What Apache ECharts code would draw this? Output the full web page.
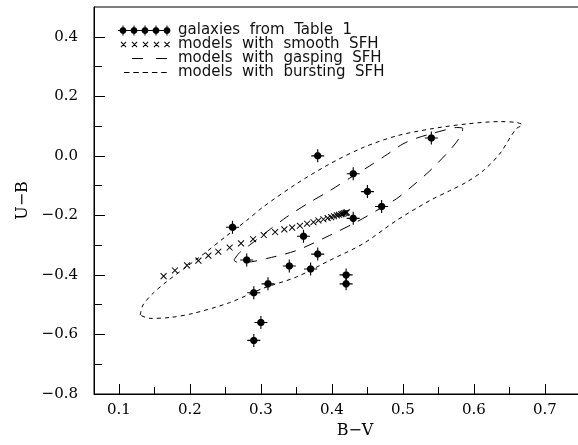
<!DOCTYPE html>
<html>
<head>
<meta charset="utf-8">
<script src="https://cdn.jsdelivr.net/npm/echarts@6.0.0/dist/echarts.min.js"></script>
<style>
html, body { margin: 0; padding: 0; background: #fff; }
#main { width: 578px; height: 445px; }
</style>
</head>
<body>
<div id="main"></div>
<script>
// galaxies from Table 1
var galaxyBV = [0.38, 0.54, 0.43, 0.45, 0.47, 0.43, 0.26, 0.36, 0.38, 0.28, 0.34, 0.37, 0.42, 0.42, 0.31, 0.29, 0.30, 0.29];
var galaxyUB = [0.00, 0.06, -0.06, -0.12, -0.17, -0.21, -0.24, -0.27, -0.33, -0.35, -0.37, -0.38, -0.40, -0.43, -0.43, -0.46, -0.56, -0.62];

// models with smooth SFH
var smoothBV = [0.163, 0.179, 0.196, 0.212, 0.226, 0.240, 0.256, 0.272, 0.289, 0.304, 0.320, 0.333, 0.344, 0.355, 0.365, 0.374, 0.381, 0.388, 0.394, 0.399, 0.403, 0.407, 0.410, 0.413, 0.415, 0.417, 0.419, 0.420, 0.421];
var smoothUB = [-0.404, -0.385, -0.368, -0.352, -0.335, -0.322, -0.308, -0.294, -0.280, -0.266, -0.256, -0.247, -0.241, -0.235, -0.228, -0.223, -0.217, -0.213, -0.209, -0.206, -0.203, -0.200, -0.198, -0.196, -0.195, -0.193, -0.192, -0.191, -0.190];

// models with gasping SFH (closed loop)
var gaspBV = [0.262, 0.270, 0.284, 0.310, 0.336, 0.366, 0.397, 0.425, 0.453, 0.478, 0.500, 0.520, 0.538, 0.558, 0.575, 0.584, 0.583, 0.575, 0.561, 0.538, 0.514, 0.491, 0.462, 0.434, 0.397, 0.350, 0.308, 0.280, 0.266, 0.262];
var gaspUB = [-0.350, -0.325, -0.300, -0.252, -0.206, -0.160, -0.117, -0.075, -0.034, 0.005, 0.040, 0.060, 0.073, 0.086, 0.095, 0.093, 0.075, 0.045, 0.006, -0.050, -0.100, -0.144, -0.185, -0.223, -0.267, -0.318, -0.345, -0.357, -0.357, -0.350];

// models with bursting SFH (closed loop)
var burstBV = [0.130, 0.134, 0.148, 0.167, 0.195, 0.223, 0.252, 0.280, 0.303, 0.350, 0.397, 0.444, 0.491, 0.538, 0.589, 0.636, 0.660, 0.668, 0.659, 0.636, 0.613, 0.589, 0.566, 0.538, 0.491, 0.444, 0.397, 0.350, 0.303, 0.256, 0.205, 0.172, 0.144, 0.130];
var burstUB = [-0.535, -0.501, -0.462, -0.423, -0.373, -0.323, -0.268, -0.217, -0.172, -0.094, -0.027, 0.028, 0.067, 0.090, 0.107, 0.115, 0.112, 0.104, 0.090, 0.006, -0.050, -0.089, -0.117, -0.150, -0.217, -0.295, -0.351, -0.407, -0.445, -0.493, -0.529, -0.543, -0.546, -0.535];

// ticks
var xTicks = [0.1, 0.2, 0.3, 0.4, 0.5, 0.6, 0.7];
var xMinorTicks = [0.15, 0.25, 0.35, 0.45, 0.55, 0.65, 0.75];
var yTicks = [-0.8, -0.6, -0.4, -0.2, 0.0, 0.2, 0.4];
var yMinorTicks = [-0.7, -0.5, -0.3, -0.1, 0.1, 0.3];

var names = ['galaxies from Table 1', 'models with smooth SFH', 'models with gasping SFH', 'models with bursting SFH'];

function zip(a, b) {
	var out = [];
	for (var i = 0; i < a.length; i++) out.push([a[i], b[i]]);
	return out;
}

// ---- path helpers for the symbols (all subpaths clockwise so nothing cancels)
function poly(pts) {
	var s = 0;
	for (var i = 0; i < pts.length; i++) {
		var p = pts[i], q = pts[(i + 1) % pts.length];
		s += p[0] * q[1] - q[0] * p[1];
	}
	if (s < 0) pts = pts.slice().reverse();
	var d = 'M' + pts[0][0].toFixed(2) + ' ' + pts[0][1].toFixed(2);
	for (var j = 1; j < pts.length; j++) d += ' L' + pts[j][0].toFixed(2) + ' ' + pts[j][1].toFixed(2);
	return d + ' Z ';
}
function rect(x, y, w, h) {
	return poly([[x, y], [x + w, y], [x + w, y + h], [x, y + h]]);
}
function circle(cx, cy, r) {
	var pts = [];
	for (var k = 0; k < 20; k++) {
		var a = k * Math.PI * 2 / 20;
		pts.push([cx + r * Math.cos(a), cy + r * Math.sin(a)]);
	}
	return poly(pts);
}
function cross(cx, cy, a, t) {
	var d = '';
	[[1, 1], [1, -1]].forEach(function (dir) {
		var ux = dir[0] / Math.SQRT2, uy = dir[1] / Math.SQRT2;
		var nx = -uy * t, ny = ux * t;
		var sx = cx - dir[0] * a, sy = cy - dir[1] * a, ex = cx + dir[0] * a, ey = cy + dir[1] * a;
		d += poly([[sx + nx, sy + ny], [ex + nx, ey + ny], [ex - nx, ey - ny], [sx - nx, sy - ny]]);
	});
	return d;
}
function anchors(w, h) {
	return 'M0 0 L0 0 Z M' + w + ' ' + h + ' L' + w + ' ' + h + ' Z';
}

var galaxySymbol = 'path://' + circle(7, 7, 4) + rect(6.4, 0, 1.2, 14) + rect(0, 6.4, 14, 1.2);
var crossSymbol = 'path://' + cross(4, 4, 3.4, 0.55) + anchors(8, 8);

var LW = 55, LH = 12;
var icon1 = rect(0, 5.4, 52, 1.2);
[5, 16, 27, 38, 49].forEach(function (c) { icon1 += circle(c, 6, 3.4) + rect(c - 0.5, 1, 1, 10); });
var icon2 = '';
[5.5, 16.5, 27.5, 38.5, 49].forEach(function (c) { icon2 += cross(c, 6, 2.6, 0.5); });
var icon3 = rect(14, 5.5, 11, 1) + rect(38, 5.5, 11, 1);
var icon4 = '';
[6, 15.3, 24.6, 33.9, 43.2].forEach(function (s) { icon4 += rect(s, 5.5, 5.5, 1); });
var legendIcons = [icon1, icon2, icon3, icon4].map(function (p) { return 'path://' + p + anchors(LW, LH); });

function fmt(v) {
	return v.toFixed(1).replace('-', '\u2212');
}

var myChart = echarts.init(document.getElementById('main'), null, { renderer: 'canvas' });

var serif = 'DejaVu Serif';
var tickLine = { color: '#000', width: 1 };

// extra axes that only carry the short (minor) tick marks
function tickAxis(kind, values, len) {
	var ax = {
		type: 'value',
		position: kind === 'x' ? 'bottom' : 'left',
		splitLine: { show: false },
		axisLine: { show: false, onZero: false },
		axisTick: { show: true, inside: true, length: len, lineStyle: tickLine, customValues: values },
		axisLabel: { show: false }
	};
	if (kind === 'x') { ax.min = 0.065; ax.max = 0.8; } else { ax.min = -0.8; ax.max = 0.5; }
	return ax;
}

myChart.setOption({
	backgroundColor: '#fff',
	animation: false,
	grid: {
		left: 94, top: 7, width: 522, height: 387,
		show: true, borderColor: '#000', borderWidth: 1,
		outerBoundsMode: 'none'
	},
	legend: {
		orient: 'vertical',
		left: 113, top: 18,
		itemWidth: LW, itemHeight: LH, itemGap: -1,
		selectedMode: false,
		itemStyle: { borderWidth: 0, opacity: 1 },
		textStyle: { fontFamily: 'DejaVu Sans', fontSize: 15, lineHeight: 15, color: '#111' },
		formatter: function (name) { return name.replace(/ /g, '  '); },
		data: names.map(function (n, i) { return { name: n, icon: legendIcons[i] }; })
	},
	xAxis: [{
		type: 'value', min: 0.065, max: 0.8,
		name: 'B\u2212V', nameLocation: 'middle', nameGap: 28,
		nameTextStyle: { fontFamily: serif, fontSize: 16, color: '#000' },
		splitLine: { show: false },
		axisLine: { onZero: false, lineStyle: tickLine },
		axisTick: { show: true, inside: true, length: 10, lineStyle: tickLine, customValues: xTicks },
		axisLabel: { customValues: xTicks, margin: 9, fontFamily: serif, fontSize: 15, color: '#000', formatter: fmt }
	}, tickAxis('x', xMinorTicks, 7)],
	yAxis: [{
		type: 'value', min: -0.8, max: 0.5,
		name: 'U\u2212B', nameLocation: 'middle', nameGap: 63,
		nameTextStyle: { fontFamily: serif, fontSize: 16, color: '#000' },
		splitLine: { show: false },
		axisLine: { onZero: false, lineStyle: tickLine },
		axisTick: { show: true, inside: true, length: 11, lineStyle: tickLine, customValues: yTicks },
		axisLabel: { customValues: yTicks, margin: 16, fontFamily: serif, fontSize: 15, color: '#000', formatter: fmt }
	}, tickAxis('y', yMinorTicks, 8)],
	series: [{
		name: names[0],
		type: 'scatter',
		symbol: galaxySymbol,
		symbolSize: 13,
		color: '#000',
		itemStyle: { color: '#000', opacity: 1 },
		z: 4,
		data: zip(galaxyBV, galaxyUB)
	}, {
		name: names[1],
		type: 'scatter',
		symbol: crossSymbol,
		symbolSize: 7,
		color: '#000',
		itemStyle: { color: '#000', opacity: 1 },
		z: 3,
		data: zip(smoothBV, smoothUB)
	}, {
		name: names[2],
		type: 'line',
		symbol: 'none',
		smooth: 0.3,
		color: '#000',
		lineStyle: { color: '#000', width: 1, type: [11, 9] },
		data: zip(gaspBV, gaspUB)
	}, {
		name: names[3],
		type: 'line',
		symbol: 'none',
		smooth: 0.3,
		color: '#000',
		lineStyle: { color: '#000', width: 1, type: [4, 4] },
		data: zip(burstBV, burstUB)
	}]
});
</script>
</body>
</html>
